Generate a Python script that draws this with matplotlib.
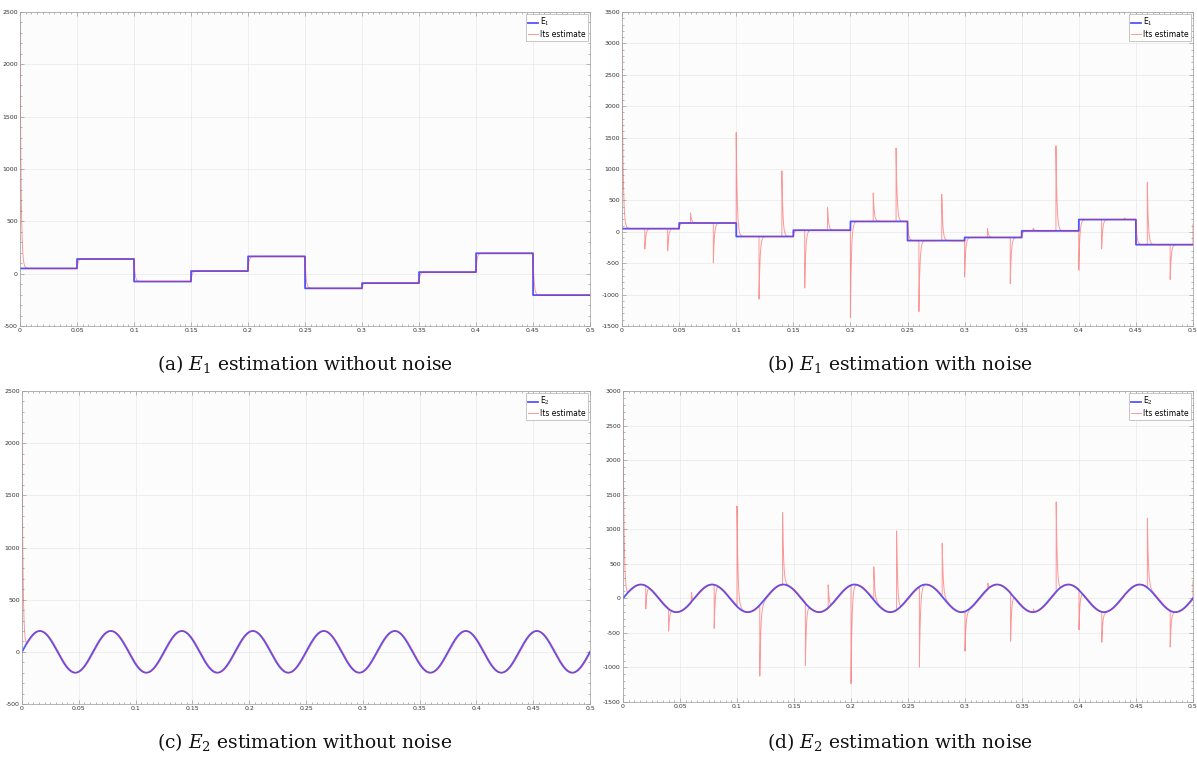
import matplotlib
matplotlib.use("Agg")
import matplotlib.pyplot as plt
import matplotlib.ticker as ticker
import numpy as np


##### Signals and estimator parameters #####

T_END = 0.5
DT = 2e-5

# E1: piecewise constant, one level per 0.05 s segment
STEP_EDGES = [0.0, 0.05, 0.10, 0.15, 0.20, 0.25, 0.30, 0.35, 0.40, 0.45, 0.50]
E1_LEVELS = [50, 140, -75, 25, 165, -140, -90, 15, 195, -205]

# E2: sinusoid
E2_AMPLITUDE = 200
E2_FREQ_HZ = 16

# initial estimate value for each run
E1_START_CLEAN = 2400
E1_START_NOISY = 3000
E2_START_CLEAN = 2100
E2_START_NOISY = 2800

# measurement-noise kicks: times and the peak the estimate reaches
KICK_TIMES = [0.02, 0.04, 0.06, 0.08, 0.10, 0.12, 0.14, 0.16, 0.18, 0.20, 0.22, 0.24,
              0.26, 0.28, 0.30, 0.32, 0.34, 0.36, 0.38, 0.40, 0.42, 0.44, 0.46, 0.48, 0.50]
E1_KICK_PEAKS = [-275, -300, 300, -495, 1580, -1070, 970, -895, 390, -1365, 615, 1335,
                 -1270, 595, -720, 50, -825, 55, 1370, -610, -270, 220, 785, -760, 120]
E2_KICK_PEAKS = [-155, -475, 85, -435, 1335, -1125, 1240, -970, 195, -1235, 455, 975,
                 -995, 795, -765, 220, -620, -155, 1395, -455, -635, 60, 1155, -705, 255]

TAU = 0.0009  # estimator time constant [s]

CAPTIONS = [r"(a) $E_1$ estimation without noise",
            r"(b) $E_1$ estimation with noise",
            r"(c) $E_2$ estimation without noise",
            r"(d) $E_2$ estimation with noise"]


##### Helpers #####

def e1_signal(t):
    """Piecewise constant disturbance"""
    idx = np.clip(np.searchsorted(STEP_EDGES, t, side="right") - 1, 0, len(E1_LEVELS) - 1)
    return np.asarray(E1_LEVELS, dtype=float)[idx]


def e2_signal(t):
    """Sinusoidal disturbance"""
    return E2_AMPLITUDE * np.sin(2 * np.pi * E2_FREQ_HZ * t)


def estimate(t, true, x0, kicks=None, peaks=None):
    """First order tracking of the true signal, plus decaying kicks from noise"""
    a = np.exp(-DT / TAU)
    est = np.empty_like(true)
    est[0] = x0
    for k in range(1, len(t)):
        est[k] = true[k] + (est[k - 1] - true[k]) * a
    if kicks is not None:
        for tk, pk in zip(kicks, peaks):
            k0 = min(int(round(tk / DT)), len(t) - 1)
            jump = pk - est[k0]
            est[k0:] += jump * np.exp(-(t[k0:] - t[k0]) / TAU)
    return est


def style_axes(ax, ylim, ymajor):
    """MATLAB-like boxed axes with inward ticks and a light grid"""
    ax.set_facecolor("#fcfcfc")
    ax.set_xlim(0, T_END)
    ax.set_ylim(*ylim)
    ax.xaxis.set_major_locator(ticker.MultipleLocator(0.05))
    ax.xaxis.set_minor_locator(ticker.MultipleLocator(0.005))
    ax.yaxis.set_major_locator(ticker.MultipleLocator(ymajor))
    ax.yaxis.set_minor_locator(ticker.MultipleLocator(100))
    ax.xaxis.set_major_formatter(ticker.FuncFormatter(lambda v, p: "%g" % round(v, 3)))
    ax.yaxis.set_major_formatter(ticker.FuncFormatter(lambda v, p: "%g" % v))
    ax.tick_params(which="both", direction="in", top=True, right=True,
                   colors="#9a9a9a", labelcolor="#333333", width=0.5)
    ax.tick_params(which="major", length=3, labelsize=4.5, pad=1.5)
    ax.tick_params(which="minor", length=1.5)
    ax.grid(True, which="major", color="#e8e8e8", lw=0.5)
    ax.set_axisbelow(True)
    for sp in ax.spines.values():
        sp.set_color("#9a9a9a")
        sp.set_linewidth(0.5)


##### Build data #####

t = np.arange(0, T_END + DT / 2, DT)
e1 = e1_signal(t)
e2 = e2_signal(t)

runs = [
    (e1, estimate(t, e1, E1_START_CLEAN), r"E$_1$", (-500, 2500), 500),
    (e1, estimate(t, e1, E1_START_NOISY, KICK_TIMES, E1_KICK_PEAKS), r"E$_1$", (-1500, 3500), 500),
    (e2, estimate(t, e2, E2_START_CLEAN), r"E$_2$", (-500, 2500), 500),
    (e2, estimate(t, e2, E2_START_NOISY, KICK_TIMES, E2_KICK_PEAKS), r"E$_2$", (-1500, 3000), 500),
]

##### Plot #####

plt.rcParams["mathtext.fontset"] = "dejavuserif"

W, H = 1197, 758
fig = plt.figure(figsize=(W / 100, H / 100), dpi=100)
fig.patch.set_facecolor("white")

# axes boxes in pixels: left, top, right, bottom
boxes = [(20, 12, 590, 326), (622, 12, 1193, 326),
         (22, 391, 590, 704), (623, 391, 1193, 702)]
caption_pos = [(305, 364), (900, 364), (305, 742), (900, 742)]

for i, (true, est, name, ylim, ymaj) in enumerate(runs):
    l, tp, r, b = boxes[i]
    ax = fig.add_axes([l / W, 1 - b / H, (r - l) / W, (b - tp) / H])
    style_axes(ax, ylim, ymaj)
    ax.plot(t, true, color="#2a2aff", lw=1.3, alpha=0.8, label=name)
    ax.plot(t, est, color="#ff2020", lw=0.7, alpha=0.45, label="Its estimate")
    leg = ax.legend(loc="upper right", fontsize=5.5, handlelength=1.3, handletextpad=0.3,
                    borderpad=0.3, labelspacing=0.15, borderaxespad=0.25,
                    fancybox=False, framealpha=1)
    leg.get_frame().set_edgecolor("#b0b0b0")
    leg.get_frame().set_linewidth(0.5)
    cx, cy = caption_pos[i]
    fig.text(cx / W, 1 - cy / H, CAPTIONS[i], ha="center", va="center",
             fontsize=13.5, family="DejaVu Serif", color="#111111")

fig.savefig("out.png", dpi=100)
